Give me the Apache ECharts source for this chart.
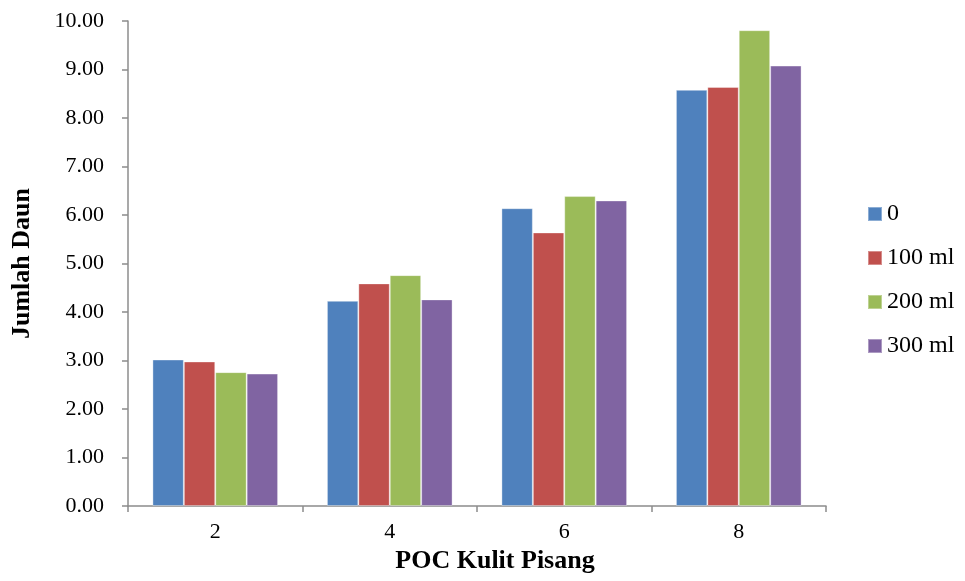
<!DOCTYPE html>
<html>
<head>
<meta charset="utf-8">
<script src="https://cdn.jsdelivr.net/npm/echarts@6/dist/echarts.min.js"></script>
<style>
  html, body { margin: 0; padding: 0; background: #fff; overflow: hidden; }
  #chart { width: 965px; height: 581px; }
</style>
</head>
<body>
<div id="chart"></div>
<script>
// Leaf count per week of banana-peel liquid organic fertilizer (POC) treatment
const categories = ['2', '4', '6', '8'];
const seriesNames = ['0', '100 ml', '200 ml', '300 ml'];
const dose0   = [3.02, 4.23, 6.14, 8.58];
const dose100 = [2.98, 4.59, 5.64, 8.64];
const dose200 = [2.76, 4.76, 6.39, 9.81];
const dose300 = [2.73, 4.26, 6.30, 9.08];
const yTicks = { min: 0, max: 10, interval: 1 };

const colors = ['#4F81BD', '#C0504D', '#9BBB59', '#8064A2'];
const values = [dose0, dose100, dose200, dose300];
const font = '"Liberation Serif", "Times New Roman", serif';

const chart = echarts.init(document.getElementById('chart'), null, { renderer: 'canvas' });

chart.setOption({
  animation: false,
  backgroundColor: '#ffffff',
  color: colors,
  textStyle: { fontFamily: font },
  grid: { left: 128, top: 21, width: 698, height: 485, containLabel: false, outerBoundsMode: 'none' },
  legend: {
    orient: 'vertical',
    left: 862,
    top: 197,
    itemWidth: 14,
    itemHeight: 14,
    itemGap: 20,
    icon: 'rect',
    data: seriesNames,
    textStyle: { fontFamily: font, fontSize: 24, color: '#000' }
  },
  xAxis: {
    type: 'category',
    data: categories,
    name: 'POC Kulit Pisang',
    nameLocation: 'middle',
    nameGap: 41,
    nameTextStyle: {
      fontFamily: font, fontSize: 26, fontWeight: 'bold', color: '#000',
      padding: [0, 0, 0, 36]
    },
    axisLine: { lineStyle: { color: '#8c8c8c', width: 1.5 } },
    axisTick: { show: true, alignWithLabel: false, length: 6, lineStyle: { color: '#8c8c8c', width: 1.5 } },
    axisLabel: { fontFamily: font, fontSize: 22, color: '#000', margin: 15 },
    splitLine: { show: false }
  },
  yAxis: {
    type: 'value',
    min: yTicks.min,
    max: yTicks.max,
    interval: yTicks.interval,
    name: 'Jumlah Daun',
    nameLocation: 'middle',
    nameGap: 93,
    nameRotate: 90,
    nameTextStyle: { fontFamily: font, fontSize: 26, fontWeight: 'bold', color: '#000' },
    axisLine: { show: true, lineStyle: { color: '#8c8c8c', width: 1.5 } },
    axisTick: { show: true, length: 6, lineStyle: { color: '#8c8c8c', width: 1.5 } },
    axisLabel: {
      fontFamily: font, fontSize: 22, color: '#000', margin: 24,
      formatter: v => v.toFixed(2)
    },
    splitLine: { show: false }
  },
  series: seriesNames.map((name, i) => ({
    name: name,
    type: 'bar',
    data: values[i],
    barGap: '0%',
    barCategoryGap: '28%',
    itemStyle: { color: colors[i], borderColor: 'rgba(255,255,255,0.35)', borderWidth: 1 }
  }))
});
</script>
</body>
</html>
